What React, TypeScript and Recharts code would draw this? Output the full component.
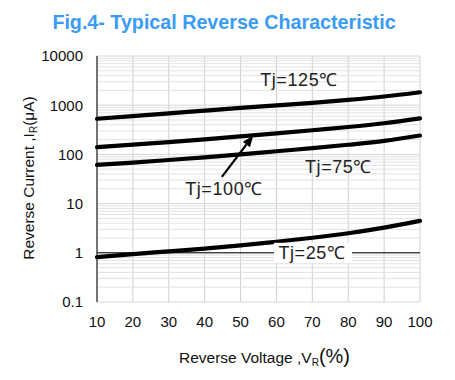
import React from 'react';
import { LineChart, Line, XAxis, YAxis, CartesianGrid, ReferenceLine, ReferenceDot } from 'recharts';

// Reverse voltage (% of rated)
const voltage = [10, 20, 30, 40, 50, 60, 70, 80, 90, 100];
// Reverse current (uA) for each junction temperature
const tj125 = [530, 600, 680, 775, 880, 990, 1115, 1280, 1500, 1830];
const tj100 = [140, 158, 178, 202, 232, 268, 310, 360, 430, 540];
const tj75 = [61, 68, 77, 87, 100, 116, 134, 157, 188, 242];
const tj25 = [0.82, 0.94, 1.07, 1.22, 1.41, 1.68, 2.02, 2.5, 3.25, 4.47];

const xTicks = [10, 20, 30, 40, 50, 60, 70, 80, 90, 100];
const yTicks = [0.1, 1, 10, 100, 1000, 10000];
const yTickLabels = ['0.1', '1', '10', '100', '1000', '10000'];
const decades = [0.1, 1, 10, 100, 1000];
const minorMultipliers = [2, 3, 4, 5, 6, 7, 8, 9];

const labels = [
  { x: 66.3, y: 3360, text: 'Tj=125℃', box: false },
  { x: 45.4, y: 20.5, text: 'Tj=100℃', box: false },
  { x: 77.3, y: 57.3, text: 'Tj=75℃', box: false },
  { x: 69.9, y: 1, text: 'Tj=25℃', box: true },
];
const arrowFrom = { x: 44.8, y: 35 };
const arrowTo = { x: 53.5, y: 239 };

const data = voltage.map((v, i) => ({ v, t125: tj125[i], t100: tj100[i], t75: tj75[i], t25: tj25[i] }));
const minorY = decades.flatMap((d) => minorMultipliers.map((m) => m * d));

const FONT = '"Liberation Sans", Arial, sans-serif';

const YLabel = (props: any) => {
  const vb = props.viewBox || {};
  const cy = vb.y + vb.height / 2 - 1;
  const x = 34;
  return (
    <text
      transform={`rotate(-90 ${x} ${cy})`}
      x={x}
      y={cy}
      textAnchor="middle"
      fontFamily={FONT}
      fontSize={15.5}
      fill="#111"
    >
      Reverse Current ,I
      <tspan fontSize={10} dy={3}>R</tspan>
      <tspan dy={-3}>(μA)</tspan>
    </text>
  );
};

const XLabel = (props: any) => {
  const vb = props.viewBox || {};
  const cx = vb.x + vb.width / 2 + 6;
  return (
    <text x={cx} y={363} textAnchor="middle" fontFamily={FONT} fontSize={15.5} fill="#111">
      Reverse Voltage ,V
      <tspan fontSize={10} dy={3}>R</tspan>
      <tspan fontSize={20} dy={-3}>(%)</tspan>
    </text>
  );
};

const renderLabel = (text: string, box: boolean) => (props: any) => {
  const { cx, cy } = props;
  return (
    <g>
      {box && <rect x={cx - 38} y={cy - 10} width={78} height={20} fill="#fff" />}
      <text
        x={cx}
        y={cy + 6.5}
        textAnchor="middle"
        fontFamily={FONT}
        fontSize={18}
        letterSpacing={0.6}
        fill="#222"
      >
        {text}
      </text>
    </g>
  );
};

const ArrowShape = (props: any) => {
  const { x1, y1, x2, y2 } = props;
  if ([x1, y1, x2, y2].some((n) => typeof n !== 'number' || isNaN(n))) return <g />;
  const ang = Math.atan2(y2 - y1, x2 - x1);
  const len = 11;
  const half = 4.5;
  const bx = x2 - len * Math.cos(ang);
  const by = y2 - len * Math.sin(ang);
  const px = -Math.sin(ang) * half;
  const py = Math.cos(ang) * half;
  return (
    <g>
      <line x1={x1} y1={y1} x2={bx} y2={by} stroke="#000" strokeWidth={2.2} />
      <polygon points={`${x2},${y2} ${bx + px},${by + py} ${bx - px},${by - py}`} fill="#000" />
    </g>
  );
};

export default function App() {
  return (
    <div style={{ position: 'absolute', left: 0, top: 0, width: 455, height: 380, background: '#fff' }}>
      <div
        style={{
          position: 'absolute',
          left: 0,
          top: 9,
          width: 448,
          textAlign: 'center',
          fontFamily: FONT,
          fontWeight: 'bold',
          fontSize: 19.7,
          color: '#3A9BF4',
          lineHeight: '26px',
        }}
      >
        Fig.4- Typical Reverse Characteristic
      </div>
      <div style={{ position: 'absolute', left: 0, top: 0 }}>
        <LineChart width={455} height={380} data={data} margin={{ top: 56, right: 35, bottom: 0, left: 0 }}>
          <CartesianGrid horizontal={false} vertical stroke="#cfcfcf" strokeWidth={1} />
          {minorY.map((v) => (
            <ReferenceLine key={'m' + v} y={v} stroke="#e2e2e2" strokeWidth={1} ifOverflow="hidden" />
          ))}
          {yTicks.map((v) => (
            <ReferenceLine key={'M' + v} y={v} stroke="#d6d6d6" strokeWidth={1} />
          ))}
          <ReferenceLine y={1} stroke="#000" strokeWidth={1} />
          <XAxis
            dataKey="v"
            type="number"
            domain={[10, 100]}
            ticks={xTicks}
            height={78}
            axisLine={false}
            tickLine={false}
            tickMargin={8}
            tick={{ fontFamily: FONT, fontSize: 15, fill: '#111' }}
            label={{ content: XLabel } as any}
          />
          <YAxis
            scale="log"
            domain={[0.1, 10000]}
            ticks={yTicks}
            allowDataOverflow
            width={97}
            axisLine={{ stroke: '#000', strokeWidth: 1 }}
            tickLine={false}
            tickMargin={8}
            tickFormatter={(v: number) => yTickLabels[yTicks.indexOf(v)] ?? String(v)}
            tick={{ fontFamily: FONT, fontSize: 15, fill: '#111' }}
            label={{ content: YLabel } as any}
          />
          <Line type="monotone" dataKey="t125" stroke="#000" strokeWidth={4.2} strokeLinecap="round" dot={false} isAnimationActive={false} />
          <Line type="monotone" dataKey="t100" stroke="#000" strokeWidth={4.2} strokeLinecap="round" dot={false} isAnimationActive={false} />
          <Line type="monotone" dataKey="t75" stroke="#000" strokeWidth={4.2} strokeLinecap="round" dot={false} isAnimationActive={false} />
          <Line type="monotone" dataKey="t25" stroke="#000" strokeWidth={4.2} strokeLinecap="round" dot={false} isAnimationActive={false} />
          <ReferenceLine
            segment={[arrowFrom, arrowTo]}
            shape={ArrowShape as any}
            ifOverflow="visible"
          />
          {labels.map((l) => (
            <ReferenceDot
              key={l.text}
              x={l.x}
              y={l.y}
              r={0}
              ifOverflow="visible"
              shape={renderLabel(l.text, l.box) as any}
            />
          ))}
        </LineChart>
      </div>
    </div>
  );
}
